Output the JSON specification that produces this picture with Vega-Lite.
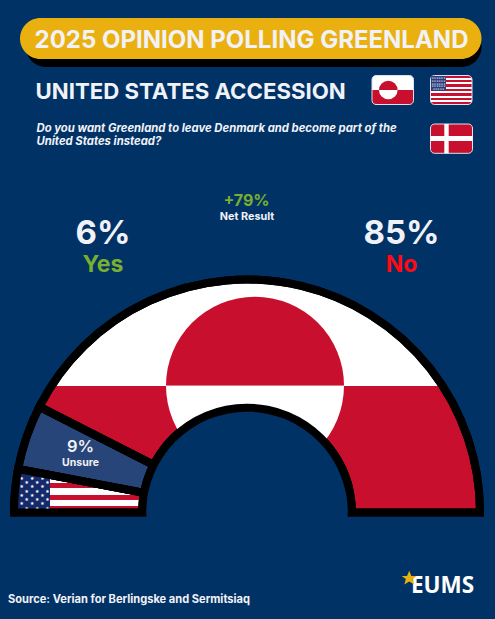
{
"$schema":"https://vega.github.io/schema/vega-lite/v6.json",
"width":495,"height":619,"padding":0,"autosize":{"type":"none"},
"background":"#013265",
"config":{"view":{"stroke":null},"axis":{"disable":true},"legend":{"disable":true}},
"data":{"values":[{"answer":"Yes","share":6,"rank":1,"label":"6%"},{"answer":"Unsure","share":9,"rank":2,"label":"9%"},{"answer":"No","share":85,"rank":3,"label":"85%"}]},
"layer":[
{"data":{"values":[{"id":"shadow"}]},"mark":{"type":"rect","fill":"#000000","cornerRadius":20},
 "encoding":{"x":{"datum":26,"type":"quantitative","scale":{"domain":[0,495],"nice":false,"zero":false}},"x2":{"datum":481.5},"y":{"datum":27,"type":"quantitative","scale":{"domain":[0,619],"reverse":true,"nice":false,"zero":false}},"y2":{"datum":67}}},
{"data":{"values":[{"id":"pill"}]},"mark":{"type":"rect","fill":"#EAB00F","cornerRadius":20.5},
 "encoding":{"x":{"datum":20,"type":"quantitative"},"x2":{"datum":481.5},"y":{"datum":18,"type":"quantitative"},"y2":{"datum":59}}},
{"data":{"values":[{"t":"2025 OPINION POLLING GREENLAND"}]},"mark":{"type":"text","font":"Inter","fontWeight":700,"fontSize":24,"fill":"#F1F2F8","align":"center","baseline":"middle"},
 "encoding":{"x":{"datum":251.5,"type":"quantitative"},"y":{"datum":40.5,"type":"quantitative"},"text":{"field":"t"}}},
{"data":{"values":[{"t":"UNITED STATES ACCESSION"}]},"mark":{"type":"text","font":"Inter","fontWeight":700,"fontSize":22.2,"fill":"#F1F2F8","align":"left","baseline":"middle"},
 "encoding":{"x":{"datum":35.5,"type":"quantitative"},"y":{"datum":92,"type":"quantitative"},"text":{"field":"t"}}},
{"data":{"values":[{"t":"Do you want Greenland to leave Denmark and become part of the"}]},"mark":{"type":"text","font":"Inter","fontWeight":700,"fontStyle":"italic","fontSize":11.3,"fill":"#F1F2F8","align":"left","baseline":"middle"},
 "encoding":{"x":{"datum":36.5,"type":"quantitative"},"y":{"datum":129,"type":"quantitative"},"text":{"field":"t"}}},
{"data":{"values":[{"t":"United States instead?"}]},"mark":{"type":"text","font":"Inter","fontWeight":700,"fontStyle":"italic","fontSize":11.3,"fill":"#F1F2F8","align":"left","baseline":"middle"},
 "encoding":{"x":{"datum":36.5,"type":"quantitative"},"y":{"datum":142,"type":"quantitative"},"text":{"field":"t"}}},

{"data":{"values":[{"id":"gl"}]},"mark":{"type":"rect","cornerRadius":4,"stroke":"#DDE1EC","strokeWidth":1,"fill":{"gradient":"linear","x1":0,"y1":0,"x2":0,"y2":1,"stops":[{"offset":0,"color":"#FFFFFF"},{"offset":0.5,"color":"#FFFFFF"},{"offset":0.5,"color":"#C8102E"},{"offset":1,"color":"#C8102E"}]}},
 "encoding":{"x":{"datum":372,"type":"quantitative"},"x2":{"datum":413.5},"y":{"datum":75.5,"type":"quantitative"},"y2":{"datum":104.5}}},
{"data":{"values":[{"id":"gl-top"}]},"mark":{"type":"arc","fill":"#C8102E","outerRadius":9.3,"innerRadius":0,"theta":-1.5708,"theta2":1.5708},
 "encoding":{"x":{"datum":388.3,"type":"quantitative"},"y":{"datum":90,"type":"quantitative"}}},
{"data":{"values":[{"id":"gl-bottom"}]},"mark":{"type":"arc","fill":"#FFFFFF","outerRadius":9.3,"innerRadius":0,"theta":1.5708,"theta2":4.7124},
 "encoding":{"x":{"datum":388.3,"type":"quantitative"},"y":{"datum":90,"type":"quantitative"}}},
{"data":{"values":[{"id":"us"}]},"mark":{"type":"rect","cornerRadius":4,"stroke":"#DDE1EC","strokeWidth":1,"fill":{"gradient":"linear","x1":0,"y1":0,"x2":0,"y2":1,"stops":[{"offset":0,"color":"#C8102E"},{"offset":0.077,"color":"#C8102E"},{"offset":0.077,"color":"#FFFFFF"},{"offset":0.154,"color":"#FFFFFF"},{"offset":0.154,"color":"#C8102E"},{"offset":0.231,"color":"#C8102E"},{"offset":0.231,"color":"#FFFFFF"},{"offset":0.308,"color":"#FFFFFF"},{"offset":0.308,"color":"#C8102E"},{"offset":0.385,"color":"#C8102E"},{"offset":0.385,"color":"#FFFFFF"},{"offset":0.462,"color":"#FFFFFF"},{"offset":0.462,"color":"#C8102E"},{"offset":0.538,"color":"#C8102E"},{"offset":0.538,"color":"#FFFFFF"},{"offset":0.615,"color":"#FFFFFF"},{"offset":0.615,"color":"#C8102E"},{"offset":0.692,"color":"#C8102E"},{"offset":0.692,"color":"#FFFFFF"},{"offset":0.769,"color":"#FFFFFF"},{"offset":0.769,"color":"#C8102E"},{"offset":0.846,"color":"#C8102E"},{"offset":0.846,"color":"#FFFFFF"},{"offset":0.923,"color":"#FFFFFF"},{"offset":0.923,"color":"#C8102E"},{"offset":1,"color":"#C8102E"}]}},
 "encoding":{"x":{"datum":430.5,"type":"quantitative"},"x2":{"datum":472},"y":{"datum":75.5,"type":"quantitative"},"y2":{"datum":104.5}}},
{"data":{"values":[{"id":"us-canton"}]},"mark":{"type":"rect","fill":"#2B3A78","cornerRadius":2},
 "encoding":{"x":{"datum":431,"type":"quantitative"},"x2":{"datum":446},"y":{"datum":76,"type":"quantitative"},"y2":{"datum":91}}},
{"data":{"values":[{"id":"us-stars"}]},"mark":{"type":"text","font":"DejaVu Sans","fontSize":2.6,"lineHeight":2.9,"fill":"#E8EAF2","align":"center","baseline":"middle","text":["★★★★★★","★★★★★★","★★★★★★","★★★★★★","★★★★★"]},
 "encoding":{"x":{"datum":438.5,"type":"quantitative"},"y":{"datum":77.8,"type":"quantitative"}}},
{"data":{"values":[{"id":"dk"}]},"mark":{"type":"rect","cornerRadius":4,"stroke":"#DDE1EC","strokeWidth":1,"fill":"#C8102E"},
 "encoding":{"x":{"datum":430.5,"type":"quantitative"},"x2":{"datum":472.5},"y":{"datum":124,"type":"quantitative"},"y2":{"datum":153.3}}},
{"data":{"values":[{"id":"dk-v"}]},"mark":{"type":"rect","fill":"#FFFFFF"},
 "encoding":{"x":{"datum":444.3,"type":"quantitative"},"x2":{"datum":448.7},"y":{"datum":124,"type":"quantitative"},"y2":{"datum":153.3}}},
{"data":{"values":[{"id":"dk-h"}]},"mark":{"type":"rect","fill":"#FFFFFF"},
 "encoding":{"x":{"datum":430.5,"type":"quantitative"},"x2":{"datum":472.5},"y":{"datum":136,"type":"quantitative"},"y2":{"datum":141}}},

{"data":{"values":[{"t":"+79%"}]},"mark":{"type":"text","font":"Inter","fontWeight":700,"fontSize":16,"fill":"#7AAE30","align":"center","baseline":"middle"},
 "encoding":{"x":{"datum":246.5,"type":"quantitative"},"y":{"datum":201,"type":"quantitative"},"text":{"field":"t"}}},
{"data":{"values":[{"t":"Net Result"}]},"mark":{"type":"text","font":"Inter","fontWeight":700,"fontSize":10.8,"fill":"#F1F2F8","align":"center","baseline":"middle"},
 "encoding":{"x":{"datum":247,"type":"quantitative"},"y":{"datum":217,"type":"quantitative"},"text":{"field":"t"}}},
{"transform":[{"filter":"datum.answer==='Yes'"}],"mark":{"type":"text","font":"Inter","fontWeight":700,"fontSize":33,"fill":"#F1F2F8","align":"center","baseline":"middle"},
 "encoding":{"x":{"datum":103,"type":"quantitative"},"y":{"datum":234,"type":"quantitative"},"text":{"field":"label"}}},
{"transform":[{"filter":"datum.answer==='No'"}],"mark":{"type":"text","font":"Inter","fontWeight":700,"fontSize":33,"fill":"#F1F2F8","align":"center","baseline":"middle"},
 "encoding":{"x":{"datum":401.5,"type":"quantitative"},"y":{"datum":234,"type":"quantitative"},"text":{"field":"label"}}},
{"transform":[{"filter":"datum.answer==='Yes'"}],"mark":{"type":"text","font":"Inter","fontWeight":700,"fontSize":23,"fill":"#7AAE30","align":"center","baseline":"middle"},
 "encoding":{"x":{"datum":103,"type":"quantitative"},"y":{"datum":265,"type":"quantitative"},"text":{"field":"answer"}}},
{"transform":[{"filter":"datum.answer==='No'"}],"mark":{"type":"text","font":"Inter","fontWeight":700,"fontSize":23,"fill":"#FF0A14","align":"center","baseline":"middle"},
 "encoding":{"x":{"datum":401.5,"type":"quantitative"},"y":{"datum":265,"type":"quantitative"},"text":{"field":"answer"}}},

{"transform":[{"stack":"share","groupby":[],"sort":[{"field":"rank"}],"as":["s0","s1"]},{"filter":"datum.answer==='Yes'"}],
 "mark":{"type":"arc","stroke":"#000000","strokeWidth":8,"strokeJoin":"miter","strokeMiterLimit":10,"outerRadius":233,"innerRadius":104.8,
  "fill":{"gradient":"linear","x1":0,"y1":0,"x2":0,"y2":1,"stops":[{"offset":0,"color":"#FFFFFF"},{"offset":0.317,"color":"#FFFFFF"},{"offset":0.317,"color":"#C8102E"},{"offset":0.439,"color":"#C8102E"},{"offset":0.439,"color":"#FFFFFF"},{"offset":0.592,"color":"#FFFFFF"},{"offset":0.592,"color":"#C8102E"},{"offset":0.714,"color":"#C8102E"},{"offset":0.714,"color":"#FFFFFF"},{"offset":0.851,"color":"#FFFFFF"},{"offset":0.851,"color":"#C8102E"},{"offset":1,"color":"#C8102E"}]}},
 "encoding":{"x":{"datum":247,"type":"quantitative"},"y":{"datum":512.5,"type":"quantitative"},
  "theta":{"field":"s0","type":"quantitative","stack":null,"scale":{"domain":[0,100],"range":[-1.5708,1.5708]}},"theta2":{"field":"s1"}}},
{"transform":[{"stack":"share","groupby":[],"sort":[{"field":"rank"}],"as":["s0","s1"]},{"filter":"datum.answer==='Unsure'"}],
 "mark":{"type":"arc","stroke":"#000000","strokeWidth":8,"strokeJoin":"miter","strokeMiterLimit":10,"outerRadius":233,"innerRadius":104.8,"fill":"#274578"},
 "encoding":{"x":{"datum":247,"type":"quantitative"},"y":{"datum":512.5,"type":"quantitative"},
  "theta":{"field":"s0","type":"quantitative","stack":null},"theta2":{"field":"s1"}}},
{"transform":[{"stack":"share","groupby":[],"sort":[{"field":"rank"}],"as":["s0","s1"]},{"filter":"datum.answer==='No'"}],
 "mark":{"type":"arc","stroke":"#000000","strokeWidth":8,"strokeJoin":"miter","strokeMiterLimit":10,"outerRadius":233,"innerRadius":104.8,
  "fill":{"gradient":"linear","x1":0,"y1":0,"x2":0,"y2":1,"stops":[{"offset":0,"color":"#FFFFFF"},{"offset":0.456,"color":"#FFFFFF"},{"offset":0.456,"color":"#C8102E"},{"offset":1,"color":"#C8102E"}]}},
 "encoding":{"x":{"datum":247,"type":"quantitative"},"y":{"datum":512.5,"type":"quantitative"},
  "theta":{"field":"s0","type":"quantitative","stack":null},"theta2":{"field":"s1"}}},
{"data":{"values":[{"id":"canton"}]},"mark":{"type":"rect","fill":"#142A6B"},
 "encoding":{"x":{"datum":14,"type":"quantitative"},"x2":{"datum":50},"y":{"datum":472,"type":"quantitative"},"y2":{"datum":510}}},
{"data":{"values":[{"id":"stars-a"}]},"mark":{"type":"text","font":"DejaVu Sans","fontSize":4.8,"lineHeight":8.5,"fill":"#FFFFFF","align":"left","baseline":"middle","text":["★\u00a0\u00a0\u00a0\u00a0★\u00a0\u00a0\u00a0\u00a0★","★\u00a0\u00a0\u00a0\u00a0★\u00a0\u00a0\u00a0\u00a0★","★\u00a0\u00a0\u00a0\u00a0★\u00a0\u00a0\u00a0\u00a0★","★\u00a0\u00a0\u00a0\u00a0★\u00a0\u00a0\u00a0\u00a0★"]},
 "encoding":{"x":{"datum":19.5,"type":"quantitative"},"y":{"datum":478.7,"type":"quantitative"}}},
{"data":{"values":[{"id":"stars-b"}]},"mark":{"type":"text","font":"DejaVu Sans","fontSize":4.8,"lineHeight":8.5,"fill":"#FFFFFF","align":"left","baseline":"middle","text":["★\u00a0\u00a0\u00a0\u00a0★\u00a0\u00a0\u00a0\u00a0★","★\u00a0\u00a0\u00a0\u00a0★\u00a0\u00a0\u00a0\u00a0★","★\u00a0\u00a0\u00a0\u00a0★\u00a0\u00a0\u00a0\u00a0★","★\u00a0\u00a0\u00a0\u00a0★\u00a0\u00a0\u00a0\u00a0★"]},
 "encoding":{"x":{"datum":24.5,"type":"quantitative"},"y":{"datum":483.3,"type":"quantitative"}}},
{"transform":[{"stack":"share","groupby":[],"sort":[{"field":"rank"}],"as":["s0","s1"]}],
 "mark":{"type":"arc","fill":null,"fillOpacity":0,"stroke":"#000000","strokeWidth":8,"strokeJoin":"miter","strokeMiterLimit":10,"outerRadius":233,"innerRadius":104.8},
 "encoding":{"x":{"datum":247,"type":"quantitative"},"y":{"datum":512.5,"type":"quantitative"},
  "theta":{"field":"s0","type":"quantitative","stack":null},"theta2":{"field":"s1"}}},
{"data":{"values":[{"id":"disc-top"}]},"mark":{"type":"arc","fill":"#C8102E","outerRadius":89,"innerRadius":0,"theta":-1.5708,"theta2":1.5708},
 "encoding":{"x":{"datum":255,"type":"quantitative"},"y":{"datum":385.7,"type":"quantitative"}}},
{"data":{"values":[{"id":"disc-bottom"}]},"mark":{"type":"arc","fill":"#FFFFFF","outerRadius":89,"innerRadius":0,"theta":1.5708,"theta2":4.7124},
 "encoding":{"x":{"datum":255,"type":"quantitative"},"y":{"datum":385.7,"type":"quantitative"}}},
{"data":{"values":[{"id":"hole"}]},"mark":{"type":"arc","fill":"#013265","outerRadius":101.5,"innerRadius":0,"theta":-1.5708,"theta2":1.5708},
 "encoding":{"x":{"datum":247,"type":"quantitative"},"y":{"datum":512.5,"type":"quantitative"}}},
{"data":{"values":[{"id":"hole-ring"}]},"mark":{"type":"arc","fill":"#000000","outerRadius":108.8,"innerRadius":100.8,"theta":-1.5708,"theta2":1.5708},
 "encoding":{"x":{"datum":247,"type":"quantitative"},"y":{"datum":512.5,"type":"quantitative"}}},

{"transform":[{"filter":"datum.answer==='Unsure'"}],"mark":{"type":"text","font":"Inter","fontWeight":600,"fontSize":16.5,"fill":"#F1F2F8","align":"center","baseline":"middle"},
 "encoding":{"x":{"datum":80.5,"type":"quantitative"},"y":{"datum":447,"type":"quantitative"},"text":{"field":"label"}}},
{"transform":[{"filter":"datum.answer==='Unsure'"}],"mark":{"type":"text","font":"Inter","fontWeight":700,"fontSize":10.5,"fill":"#F1F2F8","align":"center","baseline":"middle"},
 "encoding":{"x":{"datum":80.5,"type":"quantitative"},"y":{"datum":463,"type":"quantitative"},"text":{"field":"answer"}}},
{"data":{"values":[{"t":"Source: Verian for Berlingske and Sermitsiaq"}]},"mark":{"type":"text","font":"Inter","fontWeight":700,"fontSize":11.1,"fill":"#F1F2F8","align":"left","baseline":"middle"},
 "encoding":{"x":{"datum":8,"type":"quantitative"},"y":{"datum":599.5,"type":"quantitative"},"text":{"field":"t"}}},
{"data":{"values":[{"t":"EUMS"}]},"mark":{"type":"text","font":"Open Sans","fontWeight":700,"fontSize":22.5,"fill":"#FFFFFF","align":"left","baseline":"middle"},
 "encoding":{"x":{"datum":411,"type":"quantitative"},"y":{"datum":585.5,"type":"quantitative"},"text":{"field":"t"}}},
{"data":{"values":[{"id":"star"}]},"mark":{"type":"point","shape":"M0,-1L0.29,-0.31L1,-0.31L0.45,0.12L0.64,0.85L0,0.45L-0.64,0.85L-0.45,0.12L-1,-0.31L-0.29,-0.31Z","filled":true,"fill":"#EAB00F","opacity":1,"size":225},
 "encoding":{"x":{"datum":409.2,"type":"quantitative"},"y":{"datum":578.2,"type":"quantitative"}}}
]
}
